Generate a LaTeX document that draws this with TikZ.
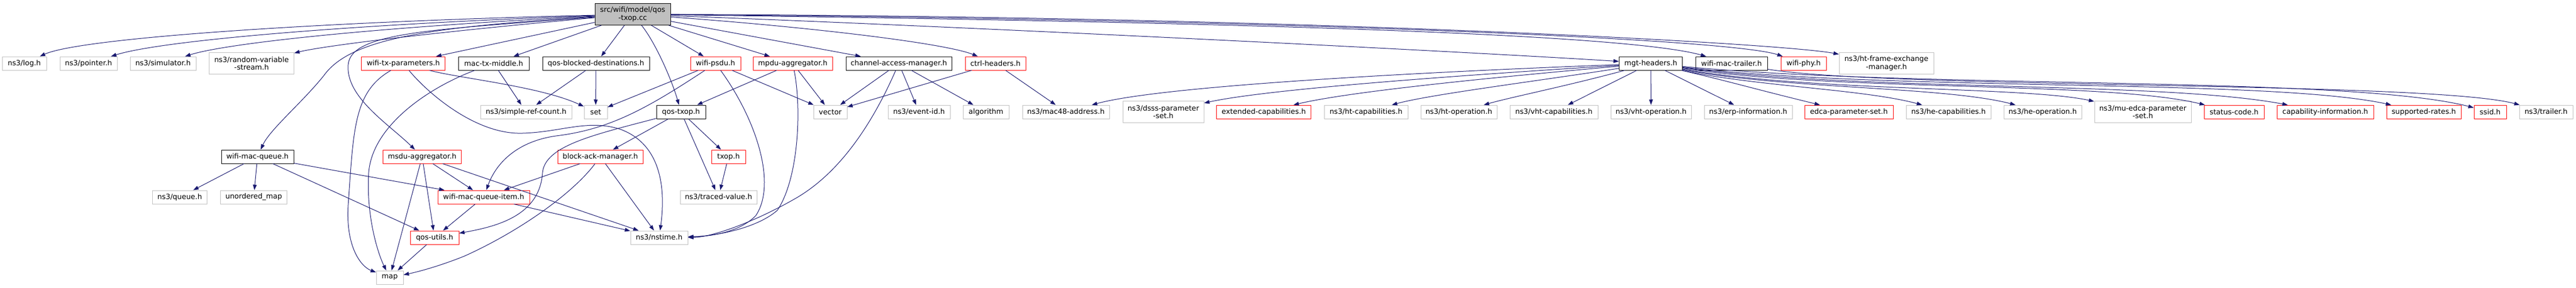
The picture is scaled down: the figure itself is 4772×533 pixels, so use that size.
\documentclass[tikz,border=0pt]{standalone}
\usepackage{fontspec}
\setmainfont{DejaVu Sans}
\usetikzlibrary{arrows.meta}

\definecolor{edgeblue}{HTML}{191970}
\definecolor{grey75}{HTML}{BFBFBF}
\newcommand{\filefont}{\fontsize{13.3}{14.6}\selectfont}

\tikzset{
  file/.style={rectangle, line width=1pt, minimum height=25pt, inner xsep=2pt, inner ysep=1pt, font=\filefont, align=center},
  twoline/.style={minimum height=40pt},
  rootfile/.style={file, draw=black, fill=grey75},
  nodoc/.style={file, draw=grey75},
  docfile/.style={file, draw=black},
  trunc/.style={file, draw=red},
  dep/.style={draw=edgeblue, line width=1pt, -{Triangle[length=10pt,width=7pt]}}
}

\begin{document}
\begin{tikzpicture}[x=1pt,y=-1pt]

  \useasboundingbox (0,0) rectangle (4772,533);

% the file itself
  \node[rootfile, twoline, minimum width=140pt] (root) at (1172,26.5) {src/wifi/model/qos\\-txop.cc};

% first row of includes
  \node[nodoc,  minimum width=82pt]  (logh)       at (45,117.5)   {ns3/log.h};
  \node[nodoc,  minimum width=106pt] (pointerh)   at (164,117.5)  {ns3/pointer.h};
  \node[nodoc,  minimum width=122pt] (simulatorh) at (302,117.5)  {ns3/simulator.h};
  \node[nodoc, twoline, minimum width=157pt] (rvsh) at (466,117.5) {ns3/random-variable\\-stream.h};
  \node[trunc,  minimum width=155pt] (wtph)       at (747,117.5)  {wifi-tx-parameters.h};
  \node[docfile,minimum width=131pt] (mtmh)       at (914.5,117.5) {mac-tx-middle.h};
  \node[docfile,minimum width=198pt] (qbdh)       at (1104,117.5) {qos-blocked-destinations.h};
  \node[trunc,  minimum width=93pt]  (psduh)      at (1325.5,117.5) {wifi-psdu.h};
  \node[trunc,  minimum width=147pt] (mpduh)      at (1468.5,117.5) {mpdu-aggregator.h};
  \node[docfile,minimum width=196pt] (camh)       at (1665,117.5) {channel-access-manager.h};
  \node[trunc,  minimum width=112pt] (ctrlh)      at (1844,117.5) {ctrl-headers.h};
  \node[docfile,minimum width=117pt] (mgth)       at (3058,117.5) {mgt-headers.h};
  \node[docfile,minimum width=133pt] (wmth)       at (3207.5,117.5) {wifi-mac-trailer.h};
  \node[trunc,  minimum width=84pt]  (phyh)       at (3341,117.5) {wifi-phy.h};
  \node[nodoc, twoline, minimum width=175pt] (htfemh) at (3494.5,117.5) {ns3/ht-frame-exchange\\-manager.h};

% second row
  \node[nodoc,  minimum width=169pt] (srefch)     at (974.5,207.5) {ns3/simple-ref-count.h};
  \node[nodoc,  minimum width=43pt]  (seth)       at (1103.5,207.5) {set};
  \node[docfile,minimum width=91pt]  (qtxoph)     at (1261.5,207.5) {qos-txop.h};
  \node[nodoc,  minimum width=62pt]  (vectorh)    at (1538,207.5) {vector};
  \node[nodoc,  minimum width=115pt] (eventidh)   at (1702.5,207.5) {ns3/event-id.h};
  \node[nodoc,  minimum width=85pt]  (algoh)      at (1826.5,207.5) {algorithm};
  \node[nodoc,  minimum width=161pt] (mac48h)     at (1974.5,207.5) {ns3/mac48-address.h};
  \node[nodoc, twoline, minimum width=150pt] (dsssh) at (2155,207.5) {ns3/dsss-parameter\\-set.h};
  \node[trunc,  minimum width=175pt] (extcaph)    at (2341,207.5) {extended-capabilities.h};
  \node[nodoc,  minimum width=155pt] (htcaph)     at (2530.5,207.5) {ns3/ht-capabilities.h};
  \node[nodoc,  minimum width=141pt] (htoph)      at (2702.5,207.5) {ns3/ht-operation.h};
  \node[nodoc,  minimum width=163pt] (vhtcaph)    at (2878.5,207.5) {ns3/vht-capabilities.h};
  \node[nodoc,  minimum width=149pt] (vhtoph)     at (3058.5,207.5) {ns3/vht-operation.h};
  \node[nodoc,  minimum width=163pt] (erph)       at (3238.5,207.5) {ns3/erp-information.h};
  \node[trunc,  minimum width=164pt] (edcah)      at (3425,207.5) {edca-parameter-set.h};
  \node[nodoc,  minimum width=157pt] (hecaph)     at (3609.5,207.5) {ns3/he-capabilities.h};
  \node[nodoc,  minimum width=144pt] (heoph)      at (3784,207.5) {ns3/he-operation.h};
  \node[nodoc, twoline, minimum width=179pt] (muedcah) at (3969.5,207.5) {ns3/mu-edca-parameter\\-set.h};
  \node[trunc,  minimum width=111pt] (statush)    at (4138.5,207.5) {status-code.h};
  \node[trunc,  minimum width=179pt] (capinfoh)   at (4307.5,207.5) {capability-information.h};
  \node[trunc,  minimum width=138pt] (supratesh)  at (4490,207.5) {supported-rates.h};
  \node[trunc,  minimum width=60pt]  (ssidh)      at (4613,207.5) {ssid.h};
  \node[nodoc,  minimum width=99pt]  (trailerh)   at (4716.5,207.5) {ns3/trailer.h};

% lower rows
  \node[docfile,minimum width=134pt] (wmqh)       at (477,290.5)  {wifi-mac-queue.h};
  \node[trunc,  minimum width=145pt] (msduh)      at (782,290.5)  {msdu-aggregator.h};
  \node[trunc,  minimum width=158pt] (bamh)       at (1112,290.5) {block-ack-manager.h};
  \node[trunc,  minimum width=63pt]  (txoph)      at (1349.5,290.5) {txop.h};
  \node[nodoc,  minimum width=101pt] (queueh)     at (333,365.5)  {ns3/queue.h};
  \node[nodoc,  minimum width=123pt] (umaph)      at (470,365.5)  {unordered\_map};
  \node[trunc,  minimum width=170pt] (wmqih)      at (896,365.5)  {wifi-mac-queue-item.h};
  \node[nodoc,  minimum width=142pt] (tracedh)    at (1331,365.5) {ns3/traced-value.h};
  \node[trunc,  minimum width=90pt]  (qosuh)      at (805,440.5)  {qos-utils.h};
  \node[nodoc,  minimum width=106pt] (nstimeh)    at (1221,440.5) {ns3/nstime.h};
  \node[nodoc,  minimum width=50pt]  (maph)       at (722,514.5)  {map};

% includes of the file itself
  \draw[dep] (root) .. controls (600,40) and (150,70) .. (logh);
  \draw[dep] (root) .. controls (650,45) and (300,75) .. (pointerh);
  \draw[dep] (root) .. controls (700,50) and (420,80) .. (simulatorh);
  \draw[dep] (root) .. controls (800,60) and (600,85) .. (rvsh);
  \draw[dep] (root) .. controls (800,50) and (650,70) .. (600,140) .. controls (560,190) and (500,240) .. (wmqh);
  \draw[dep] (root) .. controls (800,55) and (650,60) .. (645,120) .. controls (640,180) and (720,230) .. (msduh);
  \draw[dep] (root) -- (wtph);
  \draw[dep] (root) -- (mtmh);
  \draw[dep] (root) -- (qbdh);
  \draw[dep] (root) .. controls (1215,80) and (1245,150) .. (qtxoph);
  \draw[dep] (root) -- (psduh);
  \draw[dep] (root) -- (mpduh);
  \draw[dep] (root) -- (camh);
  \draw[dep] (root) .. controls (1500,50) and (1750,80) .. (ctrlh);
  \draw[dep] (root) .. controls (1800,50) and (2700,95) .. (mgth);
  \draw[dep] (root) .. controls (2200,40) and (3000,60) .. (wmth);
  \draw[dep] (root) .. controls (2300,35) and (3200,70) .. (phyh);
  \draw[dep] (root) .. controls (2400,30) and (3300,80) .. (htfemh);

% left part
  \draw[dep] (wtph) .. controls (655,170) and (655,240) .. (645,380) .. controls (640,460) and (670,495) .. (maph);
  \draw[dep] (wtph) .. controls (790,170) and (880,250) .. (968,247) .. controls (1040,245) and (1090,220) .. (1150,240) .. controls (1230,270) and (1232,360) .. (nstimeh);
  \draw[dep] (wtph) .. controls (850,145) and (1000,160) .. (seth);
  \draw[dep] (mtmh) .. controls (800,160) and (690,230) .. (683,320) .. controls (678,400) and (700,470) .. (maph);
  \draw[dep] (mtmh) -- (srefch);
  \draw[dep] (qbdh) -- (srefch);
  \draw[dep] (qbdh) -- (seth);
  \draw[dep] (wmqh) -- (queueh);
  \draw[dep] (wmqh) -- (umaph);
  \draw[dep] (wmqh) -- (qosuh);
  \draw[dep] (wmqh) -- (wmqih);
  \draw[dep] (msduh) -- (wmqih);
  \draw[dep] (msduh) -- (nstimeh);
  \draw[dep] (msduh) -- (maph);
  \draw[dep] (msduh) -- (qosuh);
  \draw[dep] (wmqih) -- (qosuh);
  \draw[dep] (wmqih) -- (nstimeh);
  \draw[dep] (qosuh) -- (maph);

% middle part
  \draw[dep] (psduh) -- (seth);
  \draw[dep] (psduh) .. controls (1200,200) and (1130,240) .. (1030,252) .. controls (960,262) and (920,300) .. (wmqih);
  \draw[dep] (psduh) .. controls (1400,220) and (1440,340) .. (1400,400) .. controls (1370,430) and (1320,438) .. (nstimeh);
  \draw[dep] (psduh) -- (vectorh);
  \draw[dep] (mpduh) -- (qtxoph);
  \draw[dep] (mpduh) .. controls (1485,200) and (1480,330) .. (1440,390) .. controls (1400,425) and (1320,438) .. (nstimeh);
  \draw[dep] (mpduh) -- (vectorh);
  \draw[dep] (camh) -- (vectorh);
  \draw[dep] (camh) .. controls (1620,220) and (1560,320) .. (1470,370) .. controls (1400,410) and (1320,440) .. (nstimeh);
  \draw[dep] (camh) -- (eventidh);
  \draw[dep] (camh) -- (algoh);
  \draw[dep] (ctrlh) -- (vectorh);
  \draw[dep] (ctrlh) -- (mac48h);
  \draw[dep] (qtxoph) -- (bamh);
  \draw[dep] (qtxoph) -- (txoph);
  \draw[dep] (qtxoph) -- (tracedh);
  \draw[dep] (qtxoph) .. controls (1100,250) and (1010,270) .. (1005,320) .. controls (1000,400) and (920,420) .. (qosuh);
  \draw[dep] (txoph) -- (tracedh);
  \draw[dep] (bamh) -- (wmqih);
  \draw[dep] (bamh) .. controls (1060,360) and (960,430) .. (860,475) .. controls (810,495) and (770,505) .. (maph);
  \draw[dep] (bamh) -- (nstimeh);

% management headers
  \draw[dep] (mgth) .. controls (2600,135) and (2150,160) .. (mac48h);
  \draw[dep] (mgth) .. controls (2700,140) and (2350,165) .. (dsssh);
  \draw[dep] (mgth) .. controls (2750,145) and (2500,170) .. (extcaph);
  \draw[dep] (mgth) .. controls (2850,150) and (2650,175) .. (htcaph);
  \draw[dep] (mgth) .. controls (2900,160) and (2800,180) .. (htoph);
  \draw[dep] (mgth) -- (vhtcaph);
  \draw[dep] (mgth) -- (vhtoph);
  \draw[dep] (mgth) -- (erph);
  \draw[dep] (mgth) .. controls (3200,150) and (3250,165) .. (edcah);
  \draw[dep] (mgth) .. controls (3250,160) and (3450,165) .. (hecaph);
  \draw[dep] (mgth) .. controls (3300,165) and (3600,160) .. (heoph);
  \draw[dep] (mgth) .. controls (3350,170) and (3750,160) .. (muedcah);
  \draw[dep] (mgth) .. controls (3400,170) and (3900,150) .. (statush);
  \draw[dep] (mgth) .. controls (3450,170) and (4000,150) .. (capinfoh);
  \draw[dep] (mgth) .. controls (3500,170) and (4200,145) .. (supratesh);
  \draw[dep] (mgth) .. controls (3550,165) and (4350,140) .. (ssidh);
  \draw[dep] (wmth) .. controls (3500,165) and (4500,150) .. (trailerh);

\end{tikzpicture}
\end{document}
